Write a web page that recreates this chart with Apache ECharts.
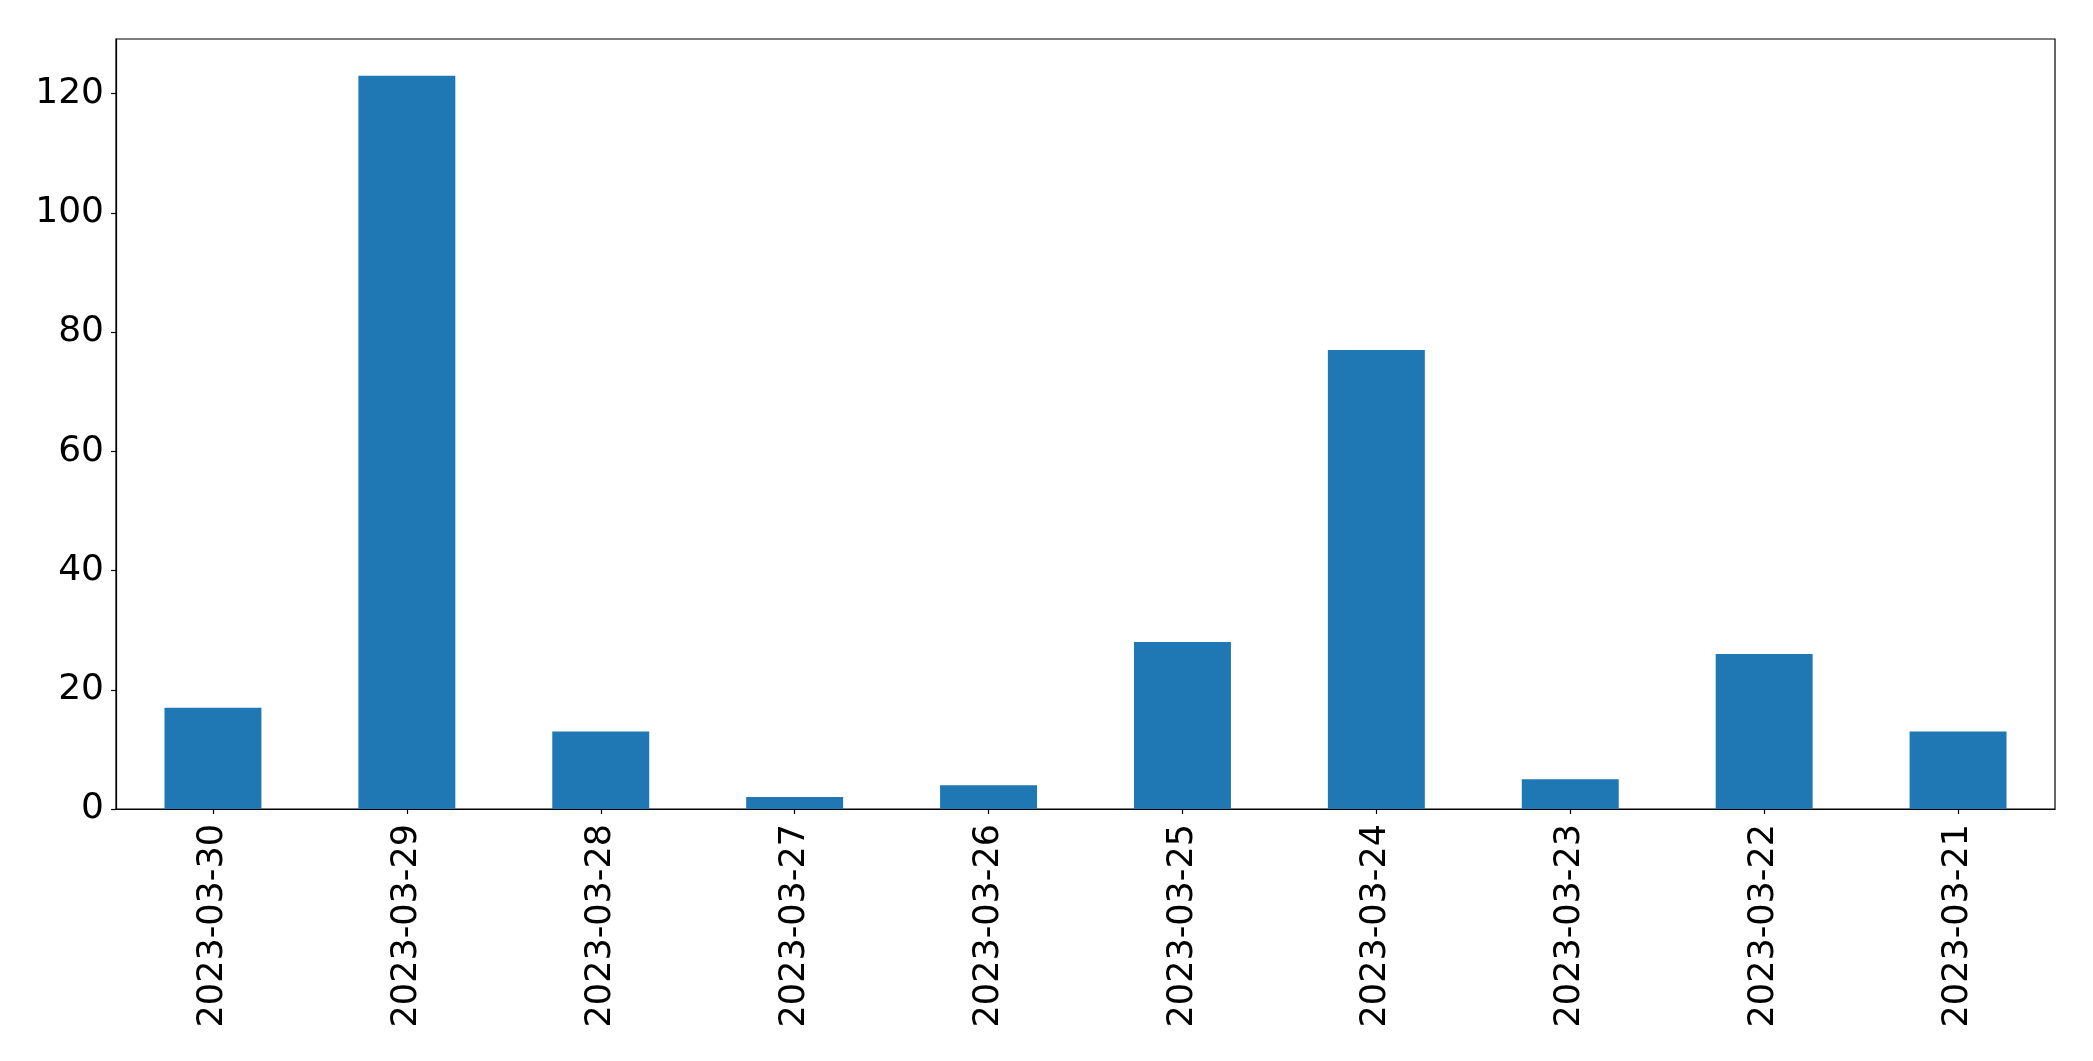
<!DOCTYPE html>
<html>
<head>
<meta charset="utf-8">
<script src="https://cdn.jsdelivr.net/npm/echarts@6/dist/echarts.min.js"></script>
<style>html,body{margin:0;padding:0;background:#fff;}#c{width:2093px;height:1061px;}</style>
</head>
<body>
<div id="c"></div>
<script>
const categories = ["2023-03-30","2023-03-29","2023-03-28","2023-03-27","2023-03-26","2023-03-25","2023-03-24","2023-03-23","2023-03-22","2023-03-21"];
const values = [17, 123, 13, 2, 4, 28, 77, 5, 26, 13];
const yTicks = [0, 20, 40, 60, 80, 100, 120];

const chart = echarts.init(document.getElementById('c'), null, {renderer: 'canvas'});
const font = 'DejaVu Sans';
chart.setOption({
  animation: false,
  backgroundColor: '#fff',
  grid: {left: 116, top: 39, right: 38, bottom: 252, containLabel: false, show: true, borderColor: '#000', borderWidth: 1.2, backgroundColor: 'transparent'},
  xAxis: {
    type: 'category',
    data: categories,
    axisLine: {show: true, lineStyle: {color: '#000', width: 1.2}},
    axisTick: {show: true, alignWithLabel: true, length: 5, lineStyle: {color: '#000', width: 1.2}},
    axisLabel: {rotate: 90, margin: 15, color: '#000', fontFamily: font, fontSize: 35, interval: 0},
    splitLine: {show: false}
  },
  yAxis: {
    type: 'value',
    min: 0,
    max: Math.max(...values) * 1.05,
    interval: 20,
    axisLine: {show: true, lineStyle: {color: '#000', width: 1.2}},
    axisTick: {show: true, length: 5, lineStyle: {color: '#000', width: 1.2}},
    axisLabel: {margin: 12, color: '#000', fontFamily: font, fontSize: 36, showMaxLabel: false,
      padding: [6, 0, 0, 0],
      formatter: v => yTicks.includes(v) ? String(v) : ''},
    splitLine: {show: false}
  },
  series: [{
    type: 'bar',
    data: values,
    barWidth: '50%',
    itemStyle: {color: '#1f77b4'}
  }]
});
</script>
</body>
</html>
